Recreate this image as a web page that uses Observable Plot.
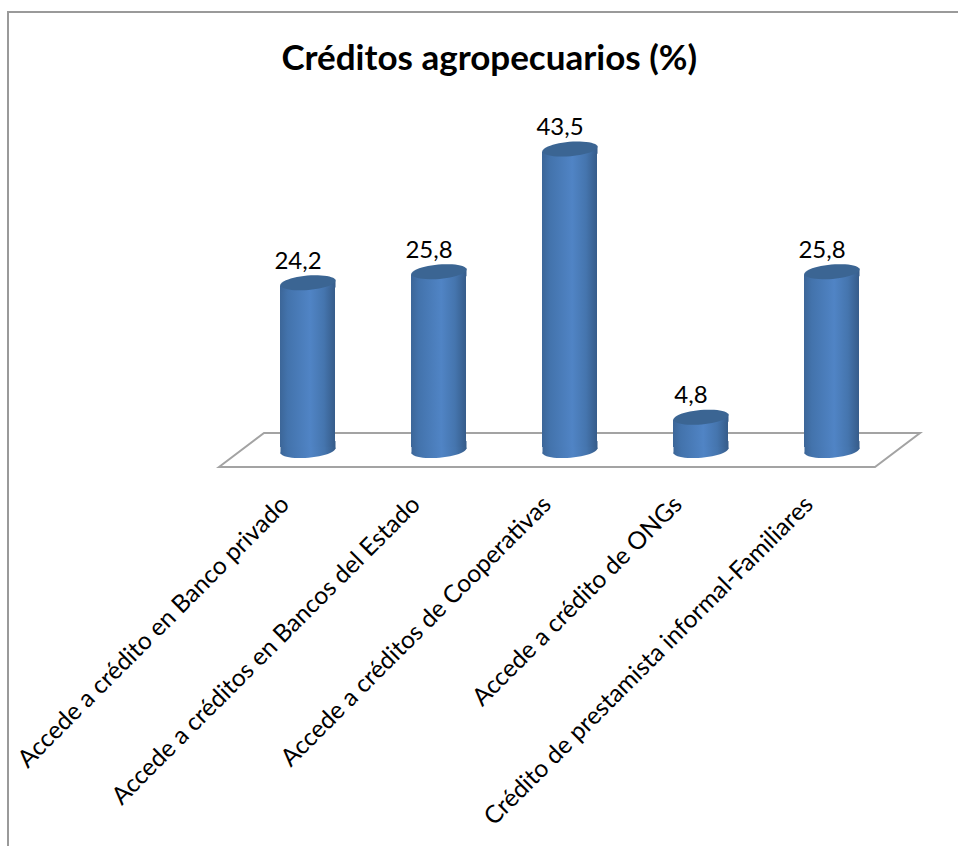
<!DOCTYPE html>
<html><head><meta charset="utf-8">
<script src="https://cdn.jsdelivr.net/npm/d3@7"></script>
<script src="https://cdn.jsdelivr.net/npm/@observablehq/plot@0.6"></script>
<style>
html,body{margin:0;padding:0;background:#fff}
#wrap{position:relative;width:958px;height:846px;overflow:hidden}
#border{position:absolute;left:7px;top:11px;width:960px;height:850px;border:2px solid #9a9a9a;box-sizing:border-box}
#wrap svg{position:absolute;left:0;top:0;overflow:visible}
</style></head><body><div id="wrap"><div id="border"></div></div>
<script>
const categories = ["Accede a crédito en Banco privado","Accede a créditos en Bancos del Estado","Accede a créditos de Cooperativas","Accede a crédito de ONGs","Crédito de prestamista informal-Familiares"];
const values = [24.2,25.8,43.5,4.8,25.8];
const valueLabels = ["24,2","25,8","43,5","4,8","25,8"];
const titleText = "Créditos agropecuarios (%)";
const rows = categories.map((c,i)=>({c,v:values[i],l:valueLabels[i]}));
const FONT = "Lato, 'Open Sans', sans-serif";
const rx=27.5, ry=7.2, tilt=-5*Math.PI/180;
function pt(a){const x=rx*Math.cos(a),y=ry*Math.sin(a);return [x*Math.cos(tilt)-y*Math.sin(tilt),x*Math.sin(tilt)+y*Math.cos(tilt)];}
const ellipse={draw(ctx){const n=48;for(let i=0;i<n;i++){const p=pt(i/n*2*Math.PI);i?ctx.lineTo(p[0],p[1]):ctx.moveTo(p[0],p[1]);}ctx.closePath();}};
const collar={draw(ctx){const t=rx*Math.sin(tilt);ctx.moveTo(-rx,-t-1);ctx.lineTo(rx,t-1);ctx.lineTo(rx,t+7);ctx.lineTo(-rx,-t+7);ctx.closePath();}};
const collarLow={draw(ctx){const t=rx*Math.sin(tilt);ctx.moveTo(-rx,-t-7);ctx.lineTo(rx,t-7);ctx.lineTo(rx,t+1);ctx.lineTo(-rx,-t+1);ctx.closePath();}};
const floor={draw(ctx){ctx.moveTo(-351,16.5);ctx.lineTo(-306,-17.5);ctx.lineTo(350,-17.5);ctx.lineTo(305,16.5);ctx.closePath();}};
const defs=()=>{const d=d3.create("svg:defs");const g=d.append("linearGradient").attr("id","cyl");
 [[0,"#3c6698"],[.14,"#4373ac"],[.55,"#5084c5"],[.8,"#4575ae"],[1,"#365c8a"]].forEach(([o,c])=>g.append("stop").attr("offset",o).attr("stop-color",c));return d.node();};
const chart=Plot.plot({width:958,height:846,marginLeft:203.5,marginRight:22,marginTop:103.5,marginBottom:396,
 style:{background:"transparent",fontFamily:FONT},
 x:{type:"band",domain:categories,padding:.58,axis:null},
 y:{domain:[0,50],axis:null},
 marks:[
  defs,
  Plot.dot([categories[2]],{x:d=>d,y:()=>0,r:5,symbol:floor,fill:"none",stroke:"#a3a3a3",strokeWidth:2}),
  Plot.dot(rows,{x:"c",y:()=>0,r:5,symbol:ellipse,fill:"url(#cyl)",stroke:"none"}),
  Plot.dot(rows,{x:"c",y:()=>0,r:5,symbol:collarLow,fill:"url(#cyl)",stroke:"none"}),
  Plot.barY(rows,{x:"c",y:"v",fill:"url(#cyl)",insetTop:3,insetBottom:3}),
  Plot.dot(rows,{x:"c",y:"v",r:5,symbol:collar,fill:"url(#cyl)",stroke:"none"}),
  Plot.dot(rows,{x:"c",y:"v",r:5,symbol:ellipse,fill:"#3b6593",stroke:"none"}),
  Plot.text(rows,{x:"c",y:"v",text:"l",dy:-21.5,dx:-10,fontSize:24,fill:"#000",lineAnchor:"middle"}),
  Plot.axisX({anchor:"bottom",tickRotate:-45,tickSize:0,tickPadding:50,fontSize:24.5,fill:"#000",label:null,dx:-23,textOverflow:null}),
  Plot.text([titleText],{frameAnchor:"top",text:d=>d,dy:-45,fontSize:35,fontWeight:700,fill:"#000",lineAnchor:"middle",dx:-81})
 ]});
document.getElementById("wrap").appendChild(chart);
</script></body></html>
